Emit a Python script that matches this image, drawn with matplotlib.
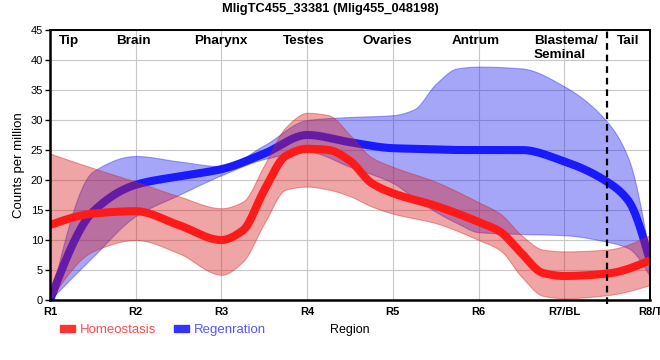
import matplotlib
matplotlib.use('Agg')
import matplotlib.pyplot as plt
import matplotlib.patches as mpatches
import numpy as np

plt.rcParams['font.family'] = ['Liberation Sans', 'DejaVu Sans']

# ── data (0 = R1 ... 7 = R8/T) ───────────────────────────────────────────────
homeo_pos  = [0, 0.5, 1, 1.5, 2, 2.25, 2.5, 2.75, 3, 3.25, 3.5, 3.75, 4, 4.5,
              5, 5.25, 5.5, 5.75, 6, 6.5, 7]
homeo_mean = [12.5, 14.4, 14.8, 12.5, 10.0, 11.6, 18.3, 24.0, 25.2, 25.0, 23.2,
              19.5, 17.8, 15.7, 13.0, 11.4, 7.8, 4.5, 4.0, 4.4, 6.6]
homeo_hi   = [24.4, 22.0, 19.7, 17.3, 15.3, 16.4, 22.5, 28.8, 31.2, 30.8, 27.5,
              23.8, 22.2, 19.7, 16.3, 14.4, 10.8, 8.4, 8.1, 8.4, 10.8]
homeo_lo   = [0.0, 8.1, 10.0, 7.8, 4.2, 6.4, 12.8, 18.4, 18.9, 18.4, 17.3,
              15.6, 14.4, 12.8, 10.0, 8.3, 3.9, 0.7, 0.3, 0.8, 2.5]

regen_pos  = [0, 0.5, 1, 1.5, 2, 2.5, 3, 3.5, 4, 4.25, 4.5, 4.75, 5, 5.5, 6,
              6.5, 6.75, 7]
regen_mean = [0.0, 14.7, 19.2, 20.6, 21.8, 24.4, 27.5, 26.3, 25.3, 25.2, 25.1,
              25.0, 25.0, 25.0, 23.1, 19.7, 16.5, 6.5]
regen_hi   = [0.0, 21.4, 24.0, 23.1, 22.3, 25.8, 30.0, 30.5, 30.8, 31.8, 36.0,
              38.6, 38.9, 38.6, 35.6, 29.7, 23.5, 7.0]
regen_lo   = [0.0, 7.2, 14.0, 17.5, 20.8, 23.5, 24.7, 22.2, 19.5, 17.0, 14.7,
              12.8, 11.3, 11.0, 10.8, 9.7, 8.6, 3.9]

tick_labels = ['R1', 'R2', 'R3', 'R4', 'R5', 'R6', 'R7/BL', 'R8/T']
regions     = ['Tip', 'Brain', 'Pharynx', 'Testes', 'Ovaries', 'Antrum',
               'Blastema/\nSeminal', 'Tail']
region_x    = [0.22, 0.97, 1.99, 2.96, 3.94, 4.97, 6.02, 6.74]
tail_start  = 6.5   # boundary between Blastema/Seminal and Tail

RED, RED_FILL = '#ff1a1a', '#d91e1e'
BLUE, BLUE_FILL = '#1a1aff', '#2121f2'


# ── monotone cubic (like d3 curveMonotoneX) ──────────────────────────────────
def smooth(x, y, n=700):
    x = np.asarray(x, float); y = np.asarray(y, float)
    h = np.diff(x); d = np.diff(y) / h
    m = np.zeros_like(y)
    for k in range(1, len(y) - 1):
        if d[k-1] * d[k] > 0:
            w1 = 2*h[k] + h[k-1]; w2 = h[k] + 2*h[k-1]
            m[k] = (w1 + w2) / (w1/d[k-1] + w2/d[k])
    m[0] = (3*d[0] - m[1]) / 2
    m[-1] = (3*d[-1] - m[-2]) / 2
    xs = np.linspace(x[0], x[-1], n)
    idx = np.clip(np.searchsorted(x, xs, side='right') - 1, 0, len(h) - 1)
    t = (xs - x[idx]) / h[idx]
    h00 = 2*t**3 - 3*t**2 + 1; h10 = t**3 - 2*t**2 + t
    h01 = -2*t**3 + 3*t**2;    h11 = t**3 - t**2
    ys = h00*y[idx] + h10*h[idx]*m[idx] + h01*y[idx+1] + h11*h[idx]*m[idx+1]
    return xs, ys


fig = plt.figure(figsize=(6.6, 3.6), dpi=100)
ax = fig.add_axes([50/660, 60/360, 600/660, 270/360])

# regeneration first, homeostasis band drawn over it
xs, lo = smooth(regen_pos, regen_lo); _, hi = smooth(regen_pos, regen_hi)
ax.fill_between(xs, lo, hi, facecolor=BLUE_FILL, edgecolor=BLUE_FILL,
                alpha=0.4, linewidth=0.8, zorder=2)
xs, ym = smooth(regen_pos, regen_mean)
ax.plot(xs, ym, color=BLUE, linewidth=5.8, zorder=3, solid_capstyle='butt')

xs, lo = smooth(homeo_pos, homeo_lo); _, hi = smooth(homeo_pos, homeo_hi)
ax.fill_between(xs, lo, hi, facecolor=RED_FILL, edgecolor=RED_FILL,
                alpha=0.4, linewidth=0.8, zorder=4)
xs, ym = smooth(homeo_pos, homeo_mean)
ax.plot(xs, ym, color=RED, linewidth=5.8, zorder=5, solid_capstyle='butt')

ax.axvline(tail_start, ymin=-0.015, ymax=1, color='black', linewidth=1.6,
           linestyle=(0, (3, 2.2)), zorder=6, clip_on=False)

# region names along the top
for name, rx in zip(regions, region_x):
    ax.text(rx, 44.2, name, ha='center', va='top', fontsize=9.7,
            fontweight='bold', multialignment='left', zorder=7)

ax.set_xlim(0, 7); ax.set_ylim(0, 45)
ax.set_xticks(range(8))
ax.set_xticklabels(tick_labels, fontsize=8, fontweight='bold')
ax.set_yticks(range(0, 46, 5))
ax.tick_params(axis='y', labelsize=8, length=3.5, width=1, pad=1.5)
ax.tick_params(axis='x', length=0, pad=5)
ax.grid(True, color='#c8c8c8', linewidth=0.8)
ax.set_axisbelow(True)
for side, sp in ax.spines.items():
    sp.set_color('black')
    sp.set_linewidth(1.4 if side in ('top', 'right') else 1.8)
    sp.set_zorder(8)

ax.set_ylabel('Counts per million', fontsize=9.5, labelpad=4)
ax.set_xlabel('Region', fontsize=9, labelpad=5)

fig.text(0.5, 1 - 9/360, 'MligTC455_33381 (Mlig455_048198)', ha='center',
         va='center', fontsize=9.3, fontweight='bold')

handles = [mpatches.Patch(color='#ff3333', label='Homeostasis'),
           mpatches.Patch(color='#3333ff', label='Regenration')]
fig.legend(handles=handles, loc='center left', bbox_to_anchor=(53/660, 1 - 330/360),
           ncol=2, frameon=False, fontsize=9.5, handlelength=1.2, handleheight=0.45,
           handletextpad=0.35, columnspacing=1.3, borderpad=0,
           labelcolor=['#ff4d4d', '#5555ff'])

plt.savefig('out.png', dpi=100)
